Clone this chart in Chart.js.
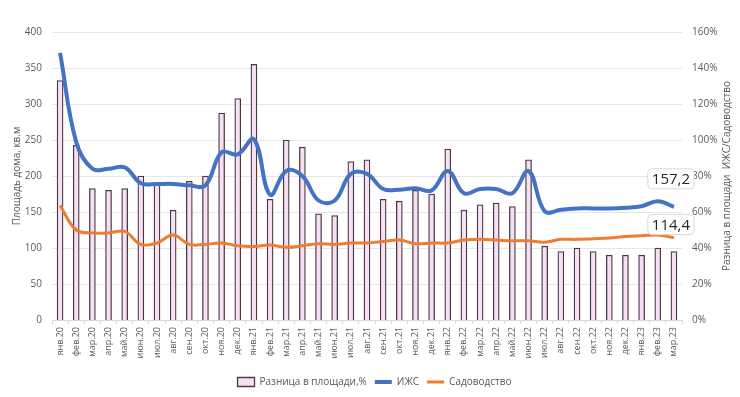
<!DOCTYPE html>
<html>
<head>
<meta charset="utf-8">
<script src="https://cdn.jsdelivr.net/npm/chart.js@4"></script>
<style>
html,body{margin:0;padding:0;background:#fff;}
#wrap{width:740px;height:397px;position:relative;}
</style>
</head>
<body>
<div id="wrap"><canvas id="c" width="740" height="397"></canvas></div>
<script>
// месяцы
const months = ["янв.20","фев.20","мар.20","апр.20","май.20","июн.20","июл.20","авг.20","сен.20","окт.20","ноя.20","дек.20",
  "янв.21","фев.21","мар.21","апр.21","май.21","июн.21","июл.21","авг.21","сен.21","окт.21","ноя.21","дек.21",
  "янв.22","фев.22","мар.22","апр.22","май.22","июн.22","июл.22","авг.22","сен.22","окт.22","ноя.22","дек.22",
  "янв.23","фев.23","мар.23"];
// разница, %
const diffPct = [133,97,73,72,73,80,76,61,77,80,115,123,
  142,67,100,96,59,58,88,89,67,66,72,70,
  95,61,64,65,63,89,41,38,40,38,36,36,
  36,40,38];
const izhs = [371,247,210,210,212,190,189,189,187,187,233,230,
  251,174,207,200,166,166,203,203,182,181,183,180,
  207,176,182,182,176,207,151,153,155,155,155,156,
  158,165,157.2];
const sad = [159,125,121,121,123,105,107,118,105,105,107,103,
  102,104,101,103,106,105,107,107,109,111,106,107,
  107,111,112,111,110,110,108,112,112,113,114,116,
  117,118,114.4];
const leftTicks = [0,50,100,150,200,250,300,350,400];

const grey = "#595959";
const font = "'Open Sans', 'Noto Sans', sans-serif";

const extras = {
  id:"extras",
  afterLayout(ch){
    // сдвинуть легенду немного вправо, как в оригинале
    ch.legend.left += 14; ch.legend.right += 14;
  },
  afterDatasetsDraw(ch){
    const ctx = ch.ctx;
    [[0,-28],[1,-13]].forEach(([di,dy])=>{
      const meta = ch.getDatasetMeta(di);
      const n = meta.data.length-1;
      const pt = meta.data[n];
      const txt = ch.data.datasets[di].data[n].toFixed(1).replace(".",",");
      ctx.save();
      ctx.font = "15px "+font;
      const w = ctx.measureText(txt).width + 8, h = 20;
      const x = pt.x - w/2 - 3, y = pt.y + dy - h/2;
      ctx.beginPath();
      ctx.roundRect(x,y,w,h,4);
      ctx.fillStyle="#fff"; ctx.fill();
      ctx.strokeStyle="#d9d9d9"; ctx.lineWidth=1; ctx.stroke();
      ctx.fillStyle="#262626"; ctx.textAlign="center"; ctx.textBaseline="middle";
      ctx.fillText(txt, x+w/2, y+h/2+1);
      ctx.restore();
    });
  },
  afterDraw(ch){
    const ctx = ch.ctx, a = ch.chartArea;
    ctx.save();
    ctx.translate(727,(a.top+a.bottom)/2);
    ctx.rotate(-Math.PI/2);
    ctx.font = "10px "+font; ctx.fillStyle=grey;
    ctx.textAlign="center"; ctx.textBaseline="middle";
    ctx.fillText("Разница в площади  ИЖС/Садоводство",0,0);
    ctx.restore();
  }
};

new Chart(document.getElementById("c"), {
  type:"bar",
  data:{
    labels:months,
    datasets:[
      {type:"line", label:"ИЖС", data:izhs, yAxisID:"y", borderColor:"#4472C4", backgroundColor:"#4472C4",
        borderWidth:4, pointRadius:0, tension:0.4, pointStyle:"line", order:1},
      {type:"line", label:"Садоводство", data:sad, yAxisID:"y", borderColor:"#ED7D31", backgroundColor:"#ED7D31",
        borderWidth:3, pointRadius:0, tension:0.4, pointStyle:"line", order:0},
      {type:"bar", label:"Разница в площади,%", data:diffPct, yAxisID:"y1", backgroundColor:"#f6e1f2",
        borderColor:"#4a3848", borderWidth:1.3, barThickness:6, pointStyle:"rect", order:2}
    ]
  },
  options:{
    responsive:false, animation:false,
    layout:{padding:{left:4,right:23,top:32,bottom:0}},
    plugins:{
      legend:{position:"bottom", reverse:true,
        labels:{usePointStyle:true, pointStyleWidth:17, boxHeight:9, color:grey, font:{family:font,size:10}, padding:8}},
      tooltip:{enabled:false}
    },
    scales:{
      x:{grid:{drawOnChartArea:false, offset:true, tickLength:4, color:"#d9d9d9"}, border:{color:"#d9d9d9"},
        afterFit:s=>{s.height=49;},
        ticks:{color:grey, font:{family:font,size:9}, minRotation:90, maxRotation:90, autoSkip:false, padding:3}},
      y:{position:"left", min:0, max:400, afterBuildTicks:s=>{s.ticks=leftTicks.map(v=>({value:v}));},
        afterFit:s=>{s.width=48;},
        grid:{color:"#e6e6e6", drawTicks:false}, border:{display:false},
        ticks:{color:grey, font:{family:font,size:10}, padding:10},
        title:{display:true, text:"Площадь дома, кв.м", color:grey, font:{family:font,size:10}, padding:7}},
      y1:{position:"right", min:0, max:160, grid:{display:false, drawTicks:false}, border:{display:false},
        afterFit:s=>{s.width=35;},
        ticks:{stepSize:20, color:grey, font:{family:font,size:10}, padding:10, callback:v=>v+"%"}}
    }
  },
  plugins:[extras]
});
</script>
</body>
</html>
